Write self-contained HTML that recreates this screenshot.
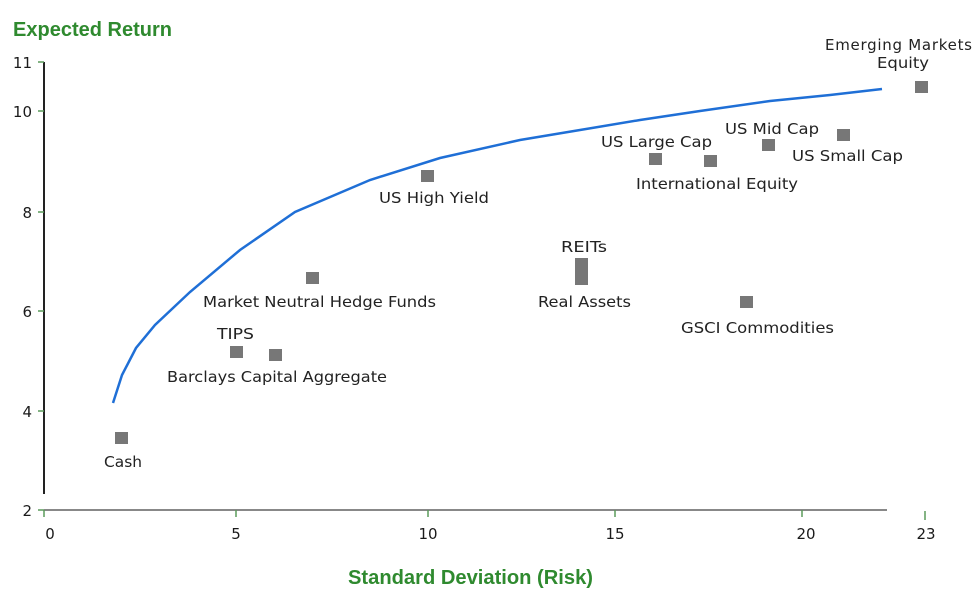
<!DOCTYPE html>
<html><head><meta charset="utf-8"><style>
html,body{margin:0;padding:0;background:#fff;}
svg{display:block;}
text{font-family:"DejaVu Sans","Liberation Sans",sans-serif;fill:#222;}
.t{font-family:"Liberation Sans",sans-serif;font-weight:bold;fill:#2f8a2f;font-size:20px;}
.k{font-size:15px;fill:#1a1a1a;}
</style></head><body>
<svg width="977" height="602" viewBox="0 0 977 602" xmlns="http://www.w3.org/2000/svg">
<text class="t" x="13" y="36" textLength="159" lengthAdjust="spacingAndGlyphs">Expected Return</text>
<text class="t" x="348" y="584" textLength="245" lengthAdjust="spacingAndGlyphs">Standard Deviation (Risk)</text>
<line x1="44" y1="62" x2="44" y2="494" stroke="#222" stroke-width="2"/>
<line x1="44" y1="510" x2="887" y2="510" stroke="#888" stroke-width="2"/>
<g stroke="#5a9a5a" stroke-width="1.5">
<line x1="38" y1="62" x2="44" y2="62"/><line x1="38" y1="111" x2="44" y2="111"/>
<line x1="38" y1="212" x2="44" y2="212"/><line x1="38" y1="311" x2="44" y2="311"/>
<line x1="38" y1="411" x2="44" y2="411"/><line x1="38" y1="510" x2="44" y2="510"/>
<line x1="44" y1="510" x2="44" y2="517"/><line x1="236" y1="510" x2="236" y2="517"/>
<line x1="428" y1="510" x2="428" y2="517"/><line x1="615" y1="510" x2="615" y2="517"/>
<line x1="802" y1="510" x2="802" y2="517"/><line x1="925" y1="511" x2="925" y2="520"/>
</g>
<g text-anchor="end">
<text class="k" x="32" y="68">11</text><text class="k" x="32" y="117">10</text>
<text class="k" x="32" y="218">8</text><text class="k" x="32" y="317">6</text>
<text class="k" x="32" y="417">4</text><text class="k" x="32" y="516">2</text>
</g>
<g text-anchor="middle">
<text class="k" x="50" y="539">0</text><text class="k" x="236" y="539">5</text>
<text class="k" x="428" y="539">10</text><text class="k" x="615" y="539">15</text>
<text class="k" x="806" y="539">20</text><text class="k" x="926" y="539">23</text>
</g>
<polyline fill="none" stroke="#1f6fd6" stroke-width="2.5" points="113,403 122,375 136,348 155,325 190,292 240,250 295,212 370,180 440,158 520,140 580,130 640,120 700,111 770,101 830,95 882,89"/>
<g fill="#777">
<rect x="115" y="432" width="13" height="12"/>
<rect x="230" y="346" width="13" height="12"/>
<rect x="269" y="349" width="13" height="12"/>
<rect x="306" y="272" width="13" height="12"/>
<rect x="421" y="170" width="13" height="12"/>
<rect x="575" y="258" width="13" height="27"/>
<rect x="649" y="153" width="13" height="12"/>
<rect x="704" y="155" width="13" height="12"/>
<rect x="762" y="139" width="13" height="12"/>
<rect x="837" y="129" width="13" height="12"/>
<rect x="915" y="81" width="13" height="12"/>
<rect x="740" y="296" width="13" height="12"/>
</g>
<g font-size="15">
<text x="104" y="467" textLength="38" lengthAdjust="spacingAndGlyphs">Cash</text>
<text x="217" y="339" textLength="37" lengthAdjust="spacingAndGlyphs">TIPS</text>
<text x="167" y="382" textLength="220" lengthAdjust="spacingAndGlyphs">Barclays Capital Aggregate</text>
<text x="203" y="307" textLength="233" lengthAdjust="spacingAndGlyphs">Market Neutral Hedge Funds</text>
<text x="379" y="203" textLength="110" lengthAdjust="spacingAndGlyphs">US High Yield</text>
<text x="561" y="252" textLength="46" lengthAdjust="spacingAndGlyphs">REITs</text>
<text x="538" y="307" textLength="93" lengthAdjust="spacingAndGlyphs">Real Assets</text>
<text x="601" y="147" textLength="111" lengthAdjust="spacingAndGlyphs">US Large Cap</text>
<text x="636" y="189" textLength="162" lengthAdjust="spacingAndGlyphs">International Equity</text>
<text x="725" y="134" textLength="94" lengthAdjust="spacingAndGlyphs">US Mid Cap</text>
<text x="792" y="161" textLength="111" lengthAdjust="spacingAndGlyphs">US Small Cap</text>
<text x="825" y="50" textLength="147" lengthAdjust="spacing">Emerging  Markets</text>
<text x="877" y="68" textLength="52" lengthAdjust="spacingAndGlyphs">Equity</text>
<text x="681" y="333" textLength="153" lengthAdjust="spacingAndGlyphs">GSCI Commodities</text>
</g>
</svg>
</body></html>
